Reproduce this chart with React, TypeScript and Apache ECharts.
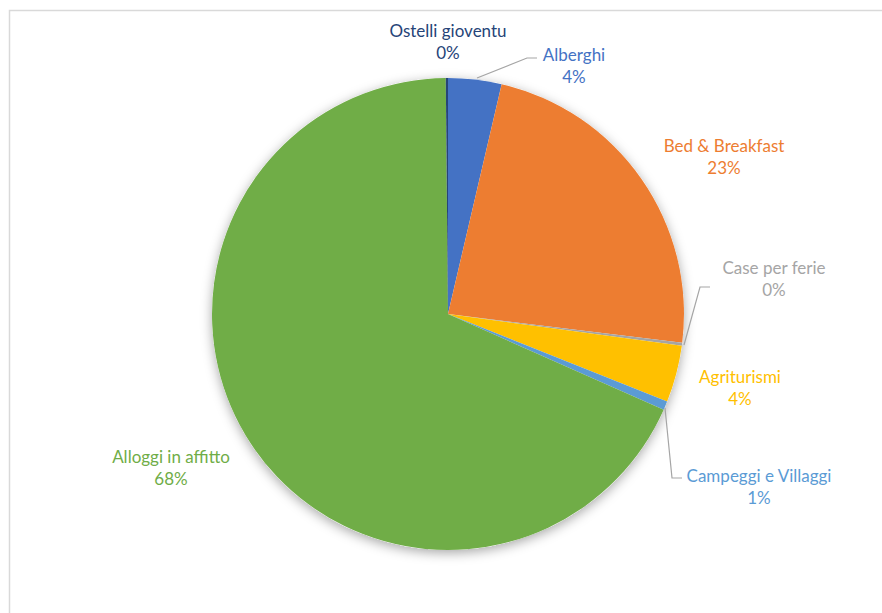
import React, { useEffect, useRef } from "react";
import * as echarts from "echarts";

const categories = [
  "Alberghi",
  "Bed & Breakfast",
  "Case per ferie",
  "Agriturismi",
  "Campeggi e Villaggi",
  "Alloggi in affitto",
  "Ostelli gioventu",
];
const shares = [3.65, 23.3, 0.2, 3.9, 0.6, 68.2, 0.15];
const colors = ["#4472C4", "#ED7D31", "#A5A5A5", "#FFC000", "#5B9BD5", "#70AD47", "#264478"];

// label placement (centre of the two-line label block), pixels
const labelPos: [number, number][] = [
  [574, 65],
  [724, 156],
  [774, 278],
  [740, 387],
  [759, 486],
  [171, 467],
  [448, 41],
];
// leader lines (null = none)
const leaderLines: ([number, number][] | null)[] = [
  [[477, 78], [527, 58], [537, 58]],
  null,
  [[684, 345], [700, 287], [710, 287]],
  null,
  [[665, 408], [672, 478], [682, 478]],
  null,
  null,
];

const FONT = "Lato, 'Noto Sans', sans-serif";

export default function App() {
  const ref = useRef<HTMLDivElement>(null);
  useEffect(() => {
    if (!ref.current) return;
    const chart = echarts.init(ref.current, undefined, { renderer: "svg" });
    chart.setOption({
      animation: false,
      backgroundColor: "#ffffff",
      graphic: [
        {
          type: "rect",
          shape: { x: 9.5, y: 10.5, width: 900, height: 640 },
          style: { fill: "none", stroke: "#d9d9d9", lineWidth: 1.5 },
          silent: true,
          z: -10,
        },
      ],
      series: [
        {
          type: "pie",
          silent: true,
          center: [448, 314],
          radius: 236,
          z: 1,
          label: { show: false },
          labelLine: { show: false },
          itemStyle: {
            color: "#ffffff",
            shadowBlur: 12,
            shadowColor: "rgba(0,0,0,0.35)",
            shadowOffsetY: 3,
          },
          data: [{ value: 1, name: "" }],
        },
        {
          type: "pie",
          center: [448, 314],
          radius: 236,
          startAngle: 90,
          clockwise: true,
          z: 2,
          avoidLabelOverlap: false,
          itemStyle: { borderWidth: 0 },
          label: {
            show: true,
            position: "outside",
            fontFamily: FONT,
            fontSize: 17,
            lineHeight: 22,
            align: "center",
            formatter: (p: any) => `${p.name}\n${Math.round(p.percent)}%`,
          },
          labelLine: {
            show: true,
            lineStyle: { color: "#A5A5A5", width: 1.2 },
          },
          labelLayout: (params: any) => {
            const i = params.dataIndex;
            const [x, y] = labelPos[i];
            const out: any = { x, y, align: "center", verticalAlign: "middle" };
            if (leaderLines[i]) out.labelLinePoints = leaderLines[i];
            return out;
          },
          data: categories.map((name, i) => ({
            name,
            value: shares[i],
            itemStyle: { color: colors[i] },
            label: { color: colors[i] },
            labelLine: { show: !!leaderLines[i] },
          })),
        },
      ],
    });
    return () => chart.dispose();
  }, []);
  return (
    <div
      ref={ref}
      style={{ position: "fixed", left: 0, top: 0, width: 882, height: 613 }}
    />
  );
}
